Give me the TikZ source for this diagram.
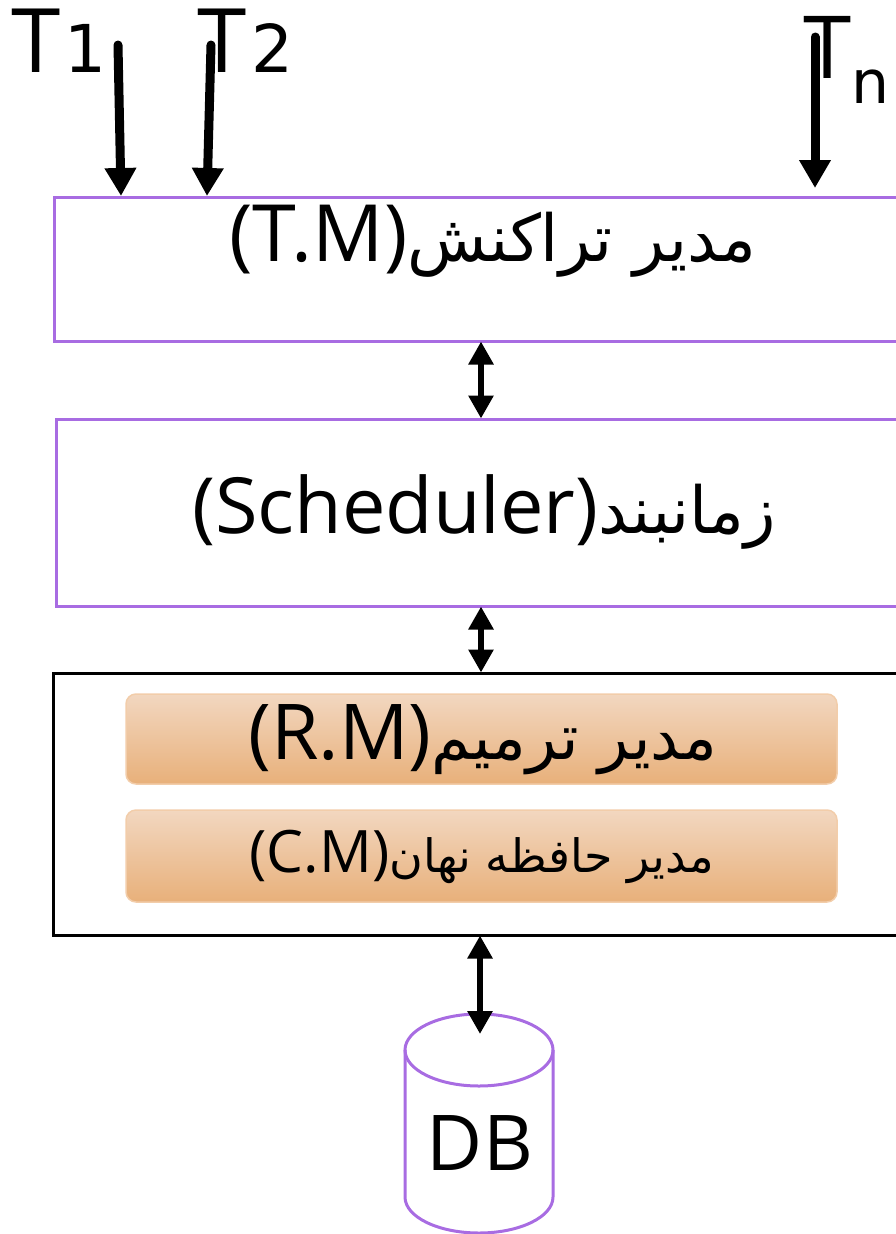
\documentclass[tikz,border=0pt]{standalone}
\usepackage{fontspec}
\setmainfont{Open Sans}
\newfontfamily\arabicfont[Script=Arabic]{DejaVu Sans}
\newfontfamily\subfont{DejaVu Sans}
\TeXXeTstate=1
\usetikzlibrary{arrows.meta}
\definecolor{boxpurple}{RGB}{168,108,226}
\definecolor{orangetop}{RGB}{242,215,192}
\definecolor{orangebot}{RGB}{232,176,122}
\definecolor{orangeedge}{RGB}{242,205,170}
\tikzset{
  layerbox/.style={draw=boxpurple, line width=3pt, inner sep=0pt},
  outerbox/.style={draw=black, line width=3pt, inner sep=0pt},
  orangebox/.style={draw=orangeedge, line width=1.5pt, rounded corners=10pt,
    top color=orangetop, bottom color=orangebot, inner sep=0pt},
  label/.style={inner sep=0pt, anchor=base},
  inarrow/.style={line width=9pt, line cap=round, -{Triangle[width=30pt,length=28pt]}},
  dblarrow/.style={line width=6.5pt, {Triangle[width=24pt,length=23pt]}-{Triangle[width=24pt,length=23pt]}, shorten <=-1pt, shorten >=-1pt},
}
\begin{document}
\begin{tikzpicture}[x=1pt,y=-1pt]
\useasboundingbox (0,0) rectangle (895,1234);

% boxes
\node[layerbox, minimum width=946pt, minimum height=144pt] (tm) at (527,269) {};
\node[layerbox, minimum width=944pt, minimum height=187pt] (sch) at (528,512.5) {};
\node[outerbox, minimum width=947pt, minimum height=262pt] (outer) at (526.5,804) {};
\node[orangebox, minimum width=711pt, minimum height=90pt] (rm) at (481.5,739) {};
\node[orangebox, minimum width=711pt, minimum height=92pt] (cm) at (481.5,856) {};

% texts
\node[label] (tmtext) at (493,261) {\fontsize{79}{80}\selectfont (T.M)\arabicfont\fontsize{65}{66}\selectfont\beginR مدیر تراکنش\endR};
\node[label] (schtext) at (484,533) {\fontsize{77.5}{80}\selectfont (Scheduler)\arabicfont\fontsize{65}{66}\selectfont\beginR زمانبند\endR};
\node[label] (rmtext) at (483,759) {\fontsize{77}{78}\selectfont (R.M)\arabicfont\fontsize{63}{64}\selectfont\beginR مدیر ترمیم\endR};
\node[label] (cmtext) at (482,872) {\fontsize{58.5}{60}\selectfont (C.M)\arabicfont\fontsize{46}{48}\selectfont\beginR مدیر حافظه نهان\endR};

% T labels
\node[inner sep=0pt, anchor=base west] (t1lab) at (11,72) {\fontsize{89}{90}\selectfont T\kern4pt\subfont\fontsize{66}{68}\selectfont 1};
\node[inner sep=0pt, anchor=base west] (t2lab) at (197,72) {\fontsize{89}{90}\selectfont T\kern5pt\subfont\fontsize{66}{68}\selectfont 2};
\node[inner sep=0pt, anchor=base west] (tnlab) at (803,78) {\fontsize{87}{90}\selectfont T\raisebox{-25pt}{\subfont\fontsize{60}{64}\selectfont n}};

% DB cylinder
\draw[boxpurple, line width=3pt] (405,1050) -- (405,1197) arc[start angle=180, end angle=360, x radius=74pt, y radius=36pt] -- (553,1050);
\draw[boxpurple, line width=3pt] (479,1050) ellipse[x radius=74pt, y radius=36pt];
\node[label] (db) at (480,1170) {\fontsize{77}{80}\selectfont DB};

% coordinates
\coordinate (t1a) at (118,45);
\coordinate (t1b) at (121,196);
\coordinate (t2a) at (211,45);
\coordinate (t2b) at (207,196);
\coordinate (tna) at (815,37);
\coordinate (tnb) at (815,188);
\coordinate (ax) at (481,0);
\coordinate (dbtop) at (480,1033);

% arrows
\draw[inarrow] (t1a) -- (t1b);
\draw[inarrow] (t2a) -- (t2b);
\draw[inarrow] (tna) -- (tnb);
\draw[dblarrow] (tm.south -| ax) -- (sch.north -| ax);
\draw[dblarrow] (sch.south -| ax) -- (outer.north -| ax);
\draw[dblarrow] (outer.south -| dbtop) -- (dbtop);
\end{tikzpicture}
\end{document}
